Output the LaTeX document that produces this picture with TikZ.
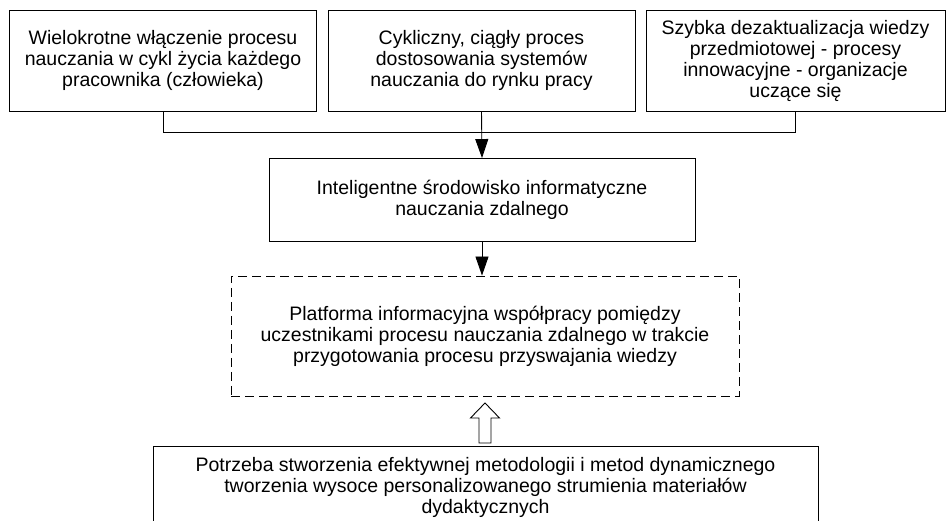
\documentclass[tikz,border=0pt]{standalone}
\usepackage{fontspec}
\setmainfont{Liberation Sans}
\usetikzlibrary{arrows.meta}
\begin{document}
\begin{tikzpicture}[x=1pt,y=1pt,
  every node/.style={font=\fontsize{19.5}{21}\selectfont, align=center, inner sep=0pt},
  box/.style={draw, line width=0.9pt},
  dashbox/.style={draw, line width=0.9pt, dash pattern=on 9pt off 5pt},
  link/.style={line width=0.9pt},
  arr/.style={line width=0.9pt, -{Triangle[length=19pt,width=13pt]}},
  hollow/.style={draw, line width=0.9pt, fill=white, line join=miter}]
\useasboundingbox (0,0) rectangle (946,-521);

% three sources at the top
\node[box, minimum width=307, minimum height=101] (life) at (163,-60.5)
  {Wielokrotne włączenie procesu\\nauczania w cykl życia każdego\\pracownika (człowieka)};
\node[box, minimum width=307, minimum height=101] (market) at (481.5,-60.5)
  {Cykliczny, ciągły proces\\dostosowania systemów\\nauczania do rynku pracy};
\node[box, minimum width=299, minimum height=101] (fast) at (795.5,-60.5)
  {Szybka dezaktualizacja wiedzy\\przedmiotowej - procesy\\innowacyjne - organizacje\\uczące się};

% intelligent environment
\node[box, minimum width=426, minimum height=83] (env) at (482,-200)
  {Inteligentne środowisko informatyczne\\nauczania zdalnego};

% cooperation platform
\node[dashbox, minimum width=508, minimum height=120] (plat) at (485,-336)
  {Platforma informacyjna współpracy pomiędzy\\uczestnikami procesu nauczania zdalnego w trakcie\\przygotowania procesu przyswajania wiedzy};

% need, box open at the lower page edge
\coordinate (needNW) at (153,-446);
\coordinate (needNE) at (818,-446);
\coordinate (needSW) at (153,-521);
\coordinate (needSE) at (818,-521);
\draw[link] (needSW) -- (needNW) -- (needNE) -- (needSE);
\node[anchor=north] (need) at (485.5,-457)
  {Potrzeba stworzenia efektywnej metodologii i metod dynamicznego\\tworzenia wysoce personalizowanego strumienia materiałów\\dydaktycznych};

% bracket joining the side sources
\coordinate (join) at (163,-132);
\draw[link] (life.south) -- (join) -| (fast.south);

% arrows down the chain
\draw[arr] (market.south) -- (env.north);
\draw[arr] (env.south) -- (env.south |- plat.north);

% hollow upward arrow from the need to the platform
\draw[hollow] (485,-403) -- (499.5,-418) -- (491,-418) -- (491,-443)
  -- (479,-443) -- (479,-418) -- (470.5,-418) -- cycle;
\end{tikzpicture}
\end{document}
